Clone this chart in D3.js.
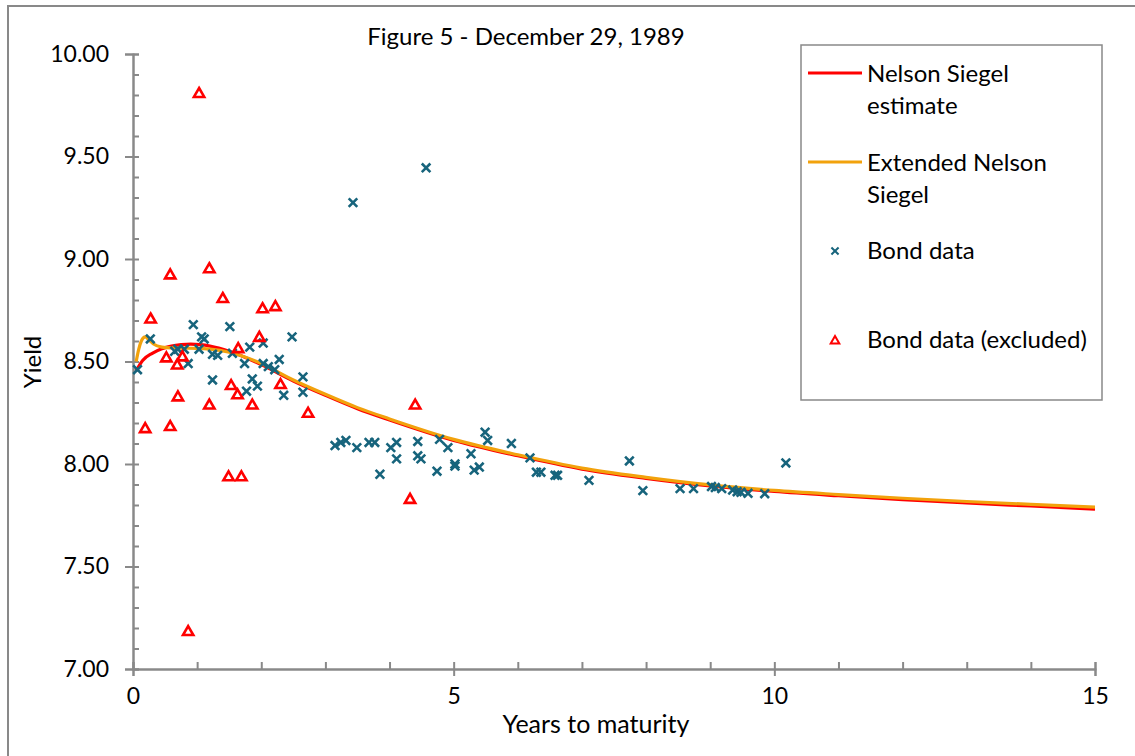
<!DOCTYPE html>
<html>
<head>
<meta charset="utf-8">
<script src="https://cdn.jsdelivr.net/npm/d3@7"></script>
<style>
  body { margin: 0; background: #fff; }
  svg { display: block; font-family: Lato, "Open Sans", sans-serif; }
</style>
</head>
<body>
<svg width="1135" height="756"></svg>
<script>
// bond data (years to maturity, yield)
bondT = [0.07,0.27,0.65,0.70,0.80,0.86,0.94,1.03,1.07,1.11,1.24,1.24,1.32,1.51,1.55,1.74,1.77,1.82,1.86,1.94,2.03,2.03,2.11,2.21,2.28,2.35,2.48,2.65,2.65,
  3.15,3.24,3.32,3.43,3.49,3.68,3.77,3.85,4.02,4.11,4.11,4.44,4.44,4.49,4.57,4.74,4.78,4.91,5.02,5.02,5.27,5.32,5.40,5.49,5.53,5.90,6.19,6.29,6.36,6.58,6.62,
  7.11,7.74,7.95,8.53,8.74,9.02,9.08,9.18,9.35,9.42,9.48,9.59,9.85,10.18];
bondY = [8.46,8.61,8.55,8.56,8.56,8.49,8.68,8.56,8.62,8.61,8.535,8.41,8.53,8.67,8.54,8.49,8.355,8.57,8.415,8.38,8.59,8.49,8.475,8.46,8.51,8.335,8.62,8.425,8.35,
  8.09,8.105,8.115,9.275,8.08,8.105,8.105,7.95,8.08,8.105,8.025,8.11,8.04,8.025,9.445,7.965,8.12,8.08,8.0,7.99,8.05,7.97,7.985,8.155,8.115,8.10,8.03,7.96,7.96,7.945,7.945,
  7.92,8.015,7.87,7.88,7.88,7.89,7.885,7.88,7.873,7.865,7.862,7.857,7.855,8.005];

// excluded bonds
exclT = [0.19,0.275,0.52,0.58,0.58,0.69,0.70,0.77,0.86,1.03,1.19,1.19,1.40,1.49,1.53,1.63,1.64,1.69,1.86,1.97,2.02,2.22,2.30,2.73,4.32,4.40];
exclY = [8.175,8.71,8.52,8.925,8.185,8.485,8.33,8.525,7.185,9.81,8.955,8.29,8.81,7.94,8.385,8.34,8.565,7.94,8.29,8.62,8.76,8.77,8.39,8.25,7.83,8.29];

// fitted curves
nsT = [0.05,0.15,0.3,0.45,0.6,0.75,0.9,1.05,1.2,1.5,2,2.5,3,3.5,4,5,6,7,8,9,10,11,12,13,14,15];
nsY = [8.455,8.505,8.54,8.562,8.575,8.582,8.585,8.582,8.575,8.55,8.485,8.405,8.335,8.27,8.215,8.115,8.04,7.975,7.93,7.893,7.866,7.845,7.826,7.81,7.795,7.78];
ensT = [0.05,0.09,0.13,0.19,0.25,0.32,0.45,0.6,0.8,1.0,1.2,1.5,2,2.5,3,3.5,4,5,6,7,8,9,10,11,12,13,14,15];
ensY = [8.50,8.56,8.60,8.62,8.605,8.585,8.57,8.566,8.565,8.564,8.56,8.545,8.49,8.41,8.34,8.275,8.22,8.12,8.045,7.98,7.935,7.898,7.871,7.851,7.833,7.817,7.803,7.79];

xMajor = [0, 5, 10, 15];
xMinor = d3.range(0, 16, 1);
yMajor = [7, 7.5, 8, 8.5, 9, 9.5, 10];
yMinor = d3.range(70, 101, 1).map(d => d / 10);

const svg = d3.select("svg");
const x = d3.scaleLinear().domain([0, 15]).range([133, 1095]);
const y = d3.scaleLinear().domain([7, 10]).range([669, 54]);
const axisCol = "#898989";

// outer chart frame
svg.append("rect")
    .attr("x", 8).attr("y", 6).attr("width", 1200).attr("height", 800)
    .attr("fill", "none").attr("stroke", axisCol).attr("stroke-width", 2);

function styleAxis(g) {
  g.select(".domain").attr("stroke", axisCol).attr("stroke-width", 2);
  g.selectAll(".tick line").attr("stroke", axisCol).attr("stroke-width", 2);
  g.selectAll("text").attr("fill", "#000").style("font-family", "Lato, sans-serif");
}

// y axis
svg.append("g").attr("transform", "translate(133,0)")
    .call(d3.axisRight(y).tickValues(yMinor).tickSize(6).tickFormat(""))
    .call(styleAxis);
svg.append("g").attr("transform", "translate(133,0)")
    .call(d3.axisLeft(y).tickValues(yMajor).tickSize(8).tickPadding(16).tickFormat(d3.format(".2f")))
    .call(styleAxis)
    .call(g => g.selectAll("text").style("font-size", "23px"));

// x axis
svg.append("g").attr("transform", "translate(0,669)")
    .call(d3.axisTop(x).tickValues(xMinor).tickSize(7).tickFormat(""))
    .call(styleAxis);
svg.append("g").attr("transform", "translate(0,669)")
    .call(d3.axisBottom(x).tickValues(xMajor).tickSize(7).tickPadding(12).tickFormat(d3.format("d")))
    .call(styleAxis)
    .call(g => g.selectAll("text").style("font-size", "23px"));

// titles
svg.append("text").attr("x", 526).attr("y", 45).attr("text-anchor", "middle")
    .style("font-size", "24px").text("Figure 5 - December 29, 1989");
svg.append("text").attr("x", 596).attr("y", 733).attr("text-anchor", "middle")
    .style("font-size", "25px").text("Years to maturity");
svg.append("text").attr("transform", "translate(41,362) rotate(-90)").attr("text-anchor", "middle")
    .style("font-size", "24px").text("Yield");

// curves
const line = d3.line().x(d => x(d[0])).y(d => y(d[1])).curve(d3.curveMonotoneX);
svg.append("path").datum(d3.zip(nsT, nsY)).attr("d", line)
    .attr("fill", "none").attr("stroke", "#ff0000").attr("stroke-width", 3.2);
svg.append("path").datum(d3.zip(ensT, ensY)).attr("d", line)
    .attr("fill", "none").attr("stroke", "#f2a20c").attr("stroke-width", 3.2);

// markers
const teal = "#17647c";
const cross = d3.symbol().type(d3.symbolX).size(50);
const tri = d3.symbol().type(d3.symbolTriangle).size(46);

svg.append("g").selectAll("path")
  .data(d3.zip(bondT, bondY))
  .join("path")
    .attr("transform", d => `translate(${x(d[0])},${y(d[1])})`)
    .attr("d", cross)
    .attr("fill", "none").attr("stroke", teal).attr("stroke-width", 2.6);

svg.append("g").selectAll("path")
  .data(d3.zip(exclT, exclY))
  .join("path")
    .attr("transform", d => `translate(${x(d[0])},${y(d[1]) + 1})`)
    .attr("d", tri)
    .attr("fill", "none").attr("stroke", "#ff0000").attr("stroke-width", 2.6);

// legend
const lg = svg.append("g");
lg.append("rect").attr("x", 801).attr("y", 45).attr("width", 301).attr("height", 355)
    .attr("fill", "#fff").attr("stroke", axisCol).attr("stroke-width", 1.5);
lg.append("line").attr("x1", 808).attr("x2", 862).attr("y1", 73).attr("y2", 73)
    .attr("stroke", "#ff0000").attr("stroke-width", 3);
lg.append("line").attr("x1", 808).attr("x2", 862).attr("y1", 162).attr("y2", 162)
    .attr("stroke", "#f2a20c").attr("stroke-width", 3);
lg.append("path").attr("transform", "translate(835,251)").attr("d", d3.symbol().type(d3.symbolX).size(35))
    .attr("fill", "none").attr("stroke", teal).attr("stroke-width", 2);
lg.append("path").attr("transform", "translate(835,341)").attr("d", d3.symbol().type(d3.symbolTriangle).size(32))
    .attr("fill", "none").attr("stroke", "#ff0000").attr("stroke-width", 2);
const legendText = [["Nelson Siegel", 82], ["estimate", 114], ["Extended Nelson", 171], ["Siegel", 203], ["Bond data", 259], ["Bond data (excluded)", 348]];
lg.selectAll("text.lt").data(legendText).join("text")
    .attr("class", "lt")
    .attr("x", 867).attr("y", d => d[1])
    .style("font-size", "24px")
    .text(d => d[0]);
</script>
</body>
</html>
